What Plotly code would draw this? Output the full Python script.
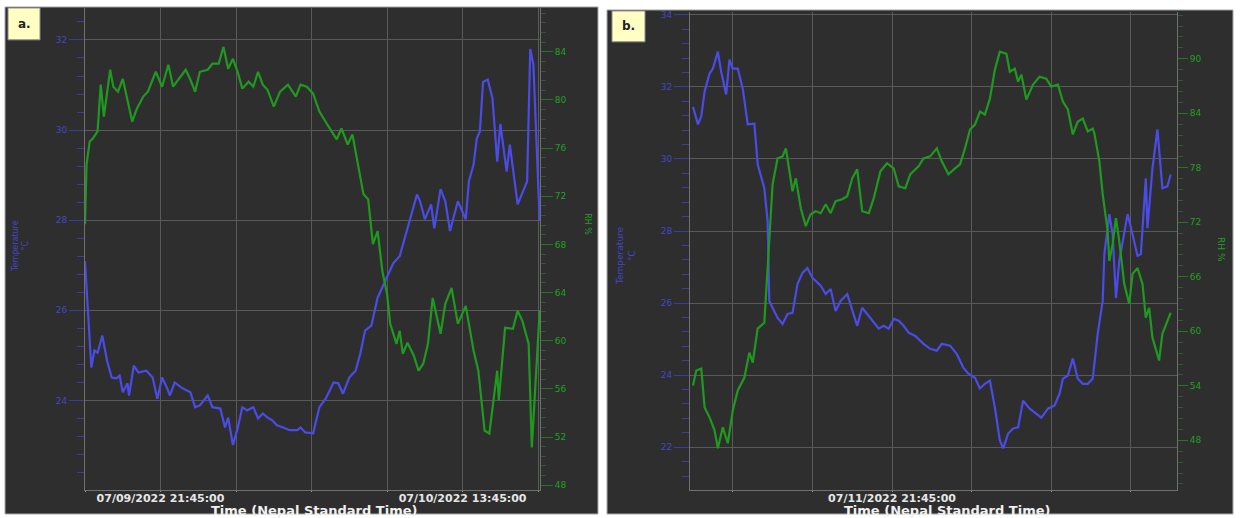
import pandas as pd
import plotly.graph_objects as go

# ---------------- data: panel a (07/09 17:45 -> 07/10 17:45) ----------------
a_start = "2022-07-09 17:45"
a_temp_min = [0, 20, 30, 40, 55, 70, 85, 100, 110, 120, 135, 140, 155, 170, 195, 215, 230, 245,
              260, 270, 285, 310, 335, 350, 365, 390, 405, 430, 445, 455, 470, 485, 500, 515,
              535, 550, 565, 580, 595, 610, 630, 650, 675, 685, 700, 725, 745, 765, 790, 805,
              820, 840, 860, 875, 890, 910, 930, 960, 980, 1000, 1015, 1035, 1055, 1065, 1080,
              1100, 1110, 1130, 1145, 1160, 1185, 1210, 1220, 1235, 1245, 1255, 1265, 1280,
              1295, 1310, 1320, 1340, 1350, 1375, 1405, 1415, 1425, 1445]
a_temp = [27.09, 24.73, 25.11, 25.06, 25.44, 24.88, 24.51, 24.49, 24.55, 24.18, 24.38, 24.11,
          24.77, 24.62, 24.66, 24.51, 24.04, 24.51, 24.29, 24.11, 24.40, 24.27, 24.18, 23.85,
          23.89, 24.11, 23.85, 23.82, 23.40, 23.62, 23.01, 23.38, 23.85, 23.78, 23.85, 23.60,
          23.71, 23.62, 23.56, 23.45, 23.40, 23.34, 23.34, 23.40, 23.29, 23.27, 23.85, 24.04,
          24.40, 24.38, 24.15, 24.51, 24.66, 25.04, 25.55, 25.66, 26.28, 26.72, 27.05, 27.20,
          27.58, 28.04, 28.57, 28.42, 28.02, 28.35, 27.82, 28.69, 28.42, 27.76, 28.42, 28.02,
          28.86, 29.24, 29.81, 29.97, 31.07, 31.12, 30.70, 29.30, 30.14, 29.08, 29.68, 28.35,
          28.86, 31.80, 31.45, 27.98]
a_rh_min = [0, 5, 15, 25, 40, 50, 60, 80, 90, 105, 120, 135, 150, 165, 185, 200, 225, 245, 265,
            280, 300, 320, 335, 350, 365, 390, 405, 425, 440, 455, 470, 485, 500, 520, 535, 550,
            565, 580, 600, 620, 645, 670, 685, 705, 725, 745, 770, 800, 815, 835, 850, 870, 885,
            900, 915, 930, 945, 960, 970, 990, 1000, 1010, 1025, 1045, 1060, 1075, 1090, 1105,
            1130, 1145, 1165, 1185, 1210, 1235, 1250, 1270, 1285, 1310, 1315, 1335, 1360, 1375,
            1390, 1410, 1420, 1445]
a_rh = [69.68, 74.65, 76.55, 76.80, 77.38, 81.27, 78.62, 82.51, 81.10, 80.69, 81.76, 80.11,
        78.21, 79.28, 80.28, 80.69, 82.34, 81.10, 82.92, 81.10, 81.76, 82.51, 81.68, 80.69,
        82.34, 82.51, 83.01, 83.01, 84.41, 82.59, 83.42, 82.34, 80.94, 81.52, 81.10, 82.34,
        81.27, 80.85, 79.45, 80.69, 81.27, 80.28, 81.27, 81.10, 80.52, 79.03, 77.96, 76.72,
        77.63, 76.30, 77.13, 74.31, 72.16, 71.75, 68.02, 69.10, 65.79, 63.88, 61.40, 59.74,
        60.82, 58.92, 59.83, 58.75, 57.51, 58.09, 59.74, 63.55, 60.57, 63.06, 64.38, 61.40,
        62.89, 59.17, 57.51, 52.54, 52.29, 57.51, 55.03, 61.07, 60.99, 62.48, 61.65, 59.74,
        51.14, 62.48]

# ---------------- data: panel b (07/11 11:45 -> 07/12 11:45) ----------------
b_start = "2022-07-11 11:45"
b_temp_min = [0, 15, 25, 35, 50, 60, 75, 85, 100, 110, 120, 135, 150, 165, 185, 195, 215, 225,
              230, 255, 270, 285, 300, 315, 330, 345, 360, 385, 400, 415, 430, 445, 465, 480,
              495, 510, 525, 540, 560, 575, 590, 605, 620, 635, 650, 670, 695, 715, 735, 750,
              775, 795, 815, 830, 850, 865, 880, 895, 910, 925, 935, 950, 965, 980, 995, 1015,
              1035, 1050, 1070, 1090, 1105, 1115, 1130, 1145, 1160, 1175, 1190, 1205, 1220,
              1235, 1240, 1255, 1265, 1275, 1285, 1310, 1325, 1340, 1350, 1365, 1370, 1385,
              1400, 1415, 1430, 1440]
b_temp = [31.45, 30.96, 31.18, 31.87, 32.37, 32.51, 32.98, 32.42, 31.79, 32.76, 32.51, 32.51,
          31.95, 30.96, 30.98, 29.85, 29.19, 28.27, 26.06, 25.59, 25.42, 25.70, 25.73, 26.53,
          26.84, 26.97, 26.70, 26.48, 26.25, 26.39, 25.78, 26.06, 26.25, 25.84, 25.37, 25.87,
          25.70, 25.51, 25.29, 25.37, 25.29, 25.56, 25.51, 25.37, 25.18, 25.09, 24.87, 24.73,
          24.68, 24.87, 24.82, 24.59, 24.21, 24.04, 23.93, 23.63, 23.76, 23.85, 23.10, 22.19,
          21.97, 22.38, 22.52, 22.55, 23.29, 23.07, 22.93, 22.82, 23.07, 23.16, 23.49, 23.90,
          23.99, 24.46, 23.90, 23.76, 23.76, 23.90, 25.15, 26.06, 27.36, 28.47, 27.91, 26.14,
          27.17, 28.47, 27.91, 27.31, 27.36, 29.46, 28.08, 29.74, 30.82, 29.19, 29.24, 29.57]
b_rh_min = [0, 10, 25, 35, 50, 65, 75, 90, 105, 120, 135, 155, 170, 180, 195, 215, 225, 240,
            255, 270, 280, 290, 300, 310, 325, 340, 355, 370, 385, 400, 415, 430, 450, 465,
            480, 495, 510, 530, 545, 565, 585, 605, 620, 640, 655, 680, 695, 715, 735, 750,
            770, 790, 805, 820, 835, 850, 865, 880, 895, 910, 925, 945, 955, 970, 980, 990,
            1005, 1025, 1045, 1065, 1080, 1100, 1115, 1130, 1145, 1160, 1175, 1190, 1205,
            1210, 1225, 1235, 1250, 1255, 1265, 1275, 1285, 1300, 1315, 1325, 1340, 1355,
            1365, 1375, 1385, 1405, 1415, 1440]
b_rh = [54.04, 55.68, 55.90, 51.62, 50.53, 49.10, 47.13, 49.43, 47.68, 51.29, 53.49, 54.91,
        57.65, 56.56, 60.29, 60.94, 66.97, 76.18, 79.04, 79.25, 80.13, 77.94, 75.42, 76.84,
        73.55, 71.58, 72.89, 73.22, 73.00, 73.99, 73.00, 74.32, 74.54, 74.87, 76.84, 77.83,
        73.22, 73.00, 74.65, 77.61, 78.49, 77.94, 75.96, 75.75, 77.28, 78.16, 79.04, 79.25,
        80.13, 78.71, 77.28, 77.94, 78.38, 80.13, 82.21, 82.76, 84.19, 83.86, 85.61, 88.79,
        90.77, 90.55, 88.57, 88.90, 87.48, 88.25, 85.50, 87.15, 88.03, 87.81, 86.93, 87.15,
        85.29, 84.41, 81.67, 83.09, 83.42, 82.00, 82.32, 81.78, 78.71, 75.09, 71.03, 67.74,
        69.61, 72.46, 69.93, 65.22, 63.03, 66.32, 66.97, 65.22, 61.49, 62.59, 59.30, 56.78,
        59.74, 62.04]

# ---------------- axis ticks ----------------
a_tick_times = ["2022-07-09 17:45", "2022-07-09 21:45", "2022-07-10 01:45", "2022-07-10 05:45",
                "2022-07-10 09:45", "2022-07-10 13:45", "2022-07-10 17:45"]
a_tick_text = ["", "07/09/2022 21:45:00", "", "", "", "07/10/2022 13:45:00", ""]
b_tick_times = ["2022-07-11 13:45", "2022-07-11 17:45", "2022-07-11 21:45", "2022-07-12 01:45",
                "2022-07-12 05:45", "2022-07-12 09:45"]
b_tick_text = ["", "", "07/11/2022 21:45:00", "", "", ""]

a_temp_ticks = [24, 26, 28, 30, 32]
a_rh_ticks = [48, 52, 56, 60, 64, 68, 72, 76, 80, 84]
b_temp_ticks = [22, 24, 26, 28, 30, 32, 34]
b_rh_ticks = [48, 54, 60, 66, 72, 78, 84, 90]


def times(start, mins):
    return pd.Timestamp(start) + pd.to_timedelta(mins, unit="m")


W, H = 1240, 518
BG = "#2e2e2e"
GRID = "#5a5a5a"
BLUE = "#4b4be6"
GREEN = "#1f9a1f"
BLUE_T = "#4646c8"
GREEN_T = "#22a022"
FONT = "DejaVu Sans"


def px(x):
    return x / W


def py(y):
    return 1 - y / H


fig = go.Figure()
fig.add_trace(go.Scatter(x=times(a_start, a_rh_min), y=a_rh, mode="lines",
                         line=dict(color=GREEN, width=2.2), xaxis="x", yaxis="y2"))
fig.add_trace(go.Scatter(x=times(a_start, a_temp_min), y=a_temp, mode="lines",
                         line=dict(color=BLUE, width=2.2), xaxis="x", yaxis="y"))
fig.add_trace(go.Scatter(x=times(b_start, b_temp_min), y=b_temp, mode="lines",
                         line=dict(color=BLUE, width=2.2), xaxis="x2", yaxis="y3"))
fig.add_trace(go.Scatter(x=times(b_start, b_rh_min), y=b_rh, mode="lines",
                         line=dict(color=GREEN, width=2.2), xaxis="x2", yaxis="y4"))

xcommon = dict(showgrid=True, gridcolor=GRID, gridwidth=1, zeroline=False,
               showline=True, linecolor="#707070", ticks="outside", ticklen=1,
               tickcolor="#9a9a9a", tickmode="array", ticklabelstandoff=-3,
               tickfont=dict(family=FONT, size=11, color="#e6e6e6", weight="bold"))
ycommon = dict(zeroline=False, ticks="outside", tickmode="array", ticklen=15,
               showline=True, linecolor="#707070")

fig.update_layout(
    width=W, height=H, autosize=False, showlegend=False,
    margin=dict(l=0, r=0, t=0, b=0),
    paper_bgcolor="white", plot_bgcolor=BG,
    xaxis=dict(xcommon, domain=[px(85), px(540)], anchor="y",
               range=["2022-07-09 17:45", "2022-07-10 17:51"],
               tickvals=a_tick_times, ticktext=a_tick_text),
    yaxis=dict(ycommon, domain=[py(490), py(6)], anchor="x", range=[22.01, 32.71],
               tickvals=a_temp_ticks, showgrid=True, gridcolor=GRID, tickcolor="#3c3ca0",
               tickfont=dict(family=FONT, size=9, color=BLUE_T),
               minor=dict(dtick=0.4, ticks="outside", ticklen=7, tickcolor="#3c3ca0", showgrid=False)),
    yaxis2=dict(ycommon, overlaying="y", side="right", anchor="x", range=[47.59, 87.64],
                tickvals=a_rh_ticks, showgrid=False, ticklen=12, tickcolor="#1f7a1f",
                tickfont=dict(family=FONT, size=9, color=GREEN_T),
                minor=dict(dtick=0.8, ticks="outside", ticklen=5, tickcolor="#2f5a2f")),
    xaxis2=dict(xcommon, domain=[px(690), px(1177)], anchor="y3",
                range=["2022-07-11 11:36", "2022-07-12 12:04"],
                tickvals=b_tick_times, ticktext=b_tick_text),
    yaxis3=dict(ycommon, domain=[py(490), py(10)], anchor="x2", range=[20.81, 34.08],
                tickvals=b_temp_ticks, showgrid=True, gridcolor=GRID, tickcolor="#3c3ca0",
                tickfont=dict(family=FONT, size=9, color=BLUE_T),
                minor=dict(dtick=0.4, ticks="outside", ticklen=7, tickcolor="#3c3ca0", showgrid=False)),
    yaxis4=dict(ycommon, overlaying="y3", side="right", anchor="x2", range=[42.52, 95.15],
                tickvals=b_rh_ticks, showgrid=False, ticklen=10, tickcolor="#1f7a1f",
                tickfont=dict(family=FONT, size=9, color=GREEN_T),
                minor=dict(dtick=1.2, ticks="outside", ticklen=5, tickcolor="#2f5a2f")),
)

shapes = [
    dict(type="rect", xref="paper", yref="paper", x0=px(5), x1=px(598), y0=py(514), y1=py(5),
         fillcolor=BG, line=dict(color="#a8a8a8", width=1), layer="below"),
    dict(type="rect", xref="paper", yref="paper", x0=px(607), x1=px(1233), y0=py(514), y1=py(8),
         fillcolor=BG, line=dict(color="#a8a8a8", width=1), layer="below"),
    dict(type="rect", xref="paper", yref="paper", x0=px(8), x1=px(40), y0=py(38), y1=py(6),
         fillcolor="#ffffc4", line=dict(color="#8a8a8a", width=1), layer="above"),
    dict(type="rect", xref="paper", yref="paper", x0=px(612), x1=px(645), y0=py(40), y1=py(9),
         fillcolor="#ffffc4", line=dict(color="#8a8a8a", width=1), layer="above"),
]
fig.update_layout(shapes=shapes)

ann = [
    dict(text="<b>a.</b>", x=px(24), y=py(22), font=dict(family=FONT, size=12, color="#222")),
    dict(text="<b>b.</b>", x=px(628), y=py(24), font=dict(family=FONT, size=12, color="#222")),
    dict(text="Temperature<br>°C", x=px(20), y=py(245), textangle=-90,
         font=dict(family=FONT, size=8, color=BLUE_T)),
    dict(text="Temperature<br>°C", x=px(626), y=py(255), textangle=-90,
         font=dict(family=FONT, size=9, color=BLUE_T)),
    dict(text="RH %", x=px(588), y=py(223), textangle=90,
         font=dict(family=FONT, size=8, color=GREEN_T)),
    dict(text="RH %", x=px(1221), y=py(248), textangle=90,
         font=dict(family=FONT, size=9, color=GREEN_T)),
    dict(text="<b>Time (Nepal Standard Time)</b>", x=px(314), y=py(510),
         font=dict(family=FONT, size=13, color="#f0f0f0")),
    dict(text="<b>Time (Nepal Standard Time)</b>", x=px(947), y=py(510),
         font=dict(family=FONT, size=13, color="#f0f0f0")),
]
for a in ann:
    a.update(xref="paper", yref="paper", showarrow=False, xanchor="center", yanchor="middle")
fig.update_layout(annotations=ann)

fig.write_html("out.html", config={"displayModeBar": False},
               post_script="document.body.style.margin='0';document.body.style.overflow='hidden';")
